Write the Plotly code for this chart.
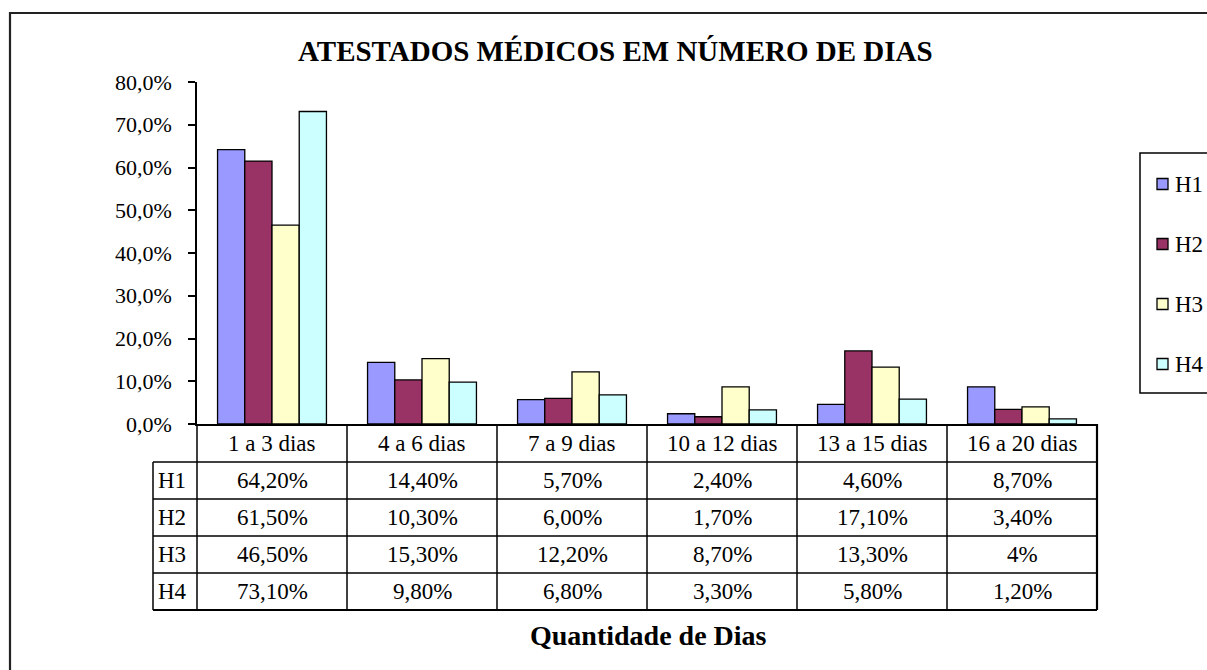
import plotly.graph_objects as go

# ---- data ----
categories = ["1 a 3 dias", "4 a 6 dias", "7 a 9 dias", "10 a 12 dias", "13 a 15 dias", "16 a 20 dias"]
series_names = ["H1", "H2", "H3", "H4"]
H1 = [64.2, 14.4, 5.7, 2.4, 4.6, 8.7]
H2 = [61.5, 10.3, 6.0, 1.7, 17.1, 3.4]
H3 = [46.5, 15.3, 12.2, 8.7, 13.3, 4.0]
H4 = [73.1, 9.8, 6.8, 3.3, 5.8, 1.2]
series_values = [H1, H2, H3, H4]
colors = ["#9999FF", "#993366", "#FFFFCC", "#CCFFFF"]
y_ticks = [0, 0.1, 0.2, 0.3, 0.4, 0.5, 0.6, 0.7, 0.8]

title = "ATESTADOS MÉDICOS EM NÚMERO DE DIAS"
x_title = "Quantidade de Dias"

# ---- layout geometry (pixels) ----
W, H = 1207, 670
L, R, T, B = 197, 1097, 82, 424
PW, PH = R - L, B - T
FONT = "Liberation Serif"


def px_x(x):
    return (x - L) / PW


def px_y(y):
    return (B - y) / PH


def fmt(v):
    if v == int(v) and v < 5:
        return f"{int(v)}%"
    return f"{v:.2f}%".replace(".", ",")


fig = go.Figure()
for name, vals, col in zip(series_names, series_values, colors):
    fig.add_trace(go.Bar(
        x=categories, y=[v / 100 for v in vals], name=name,
        marker=dict(color=col, line=dict(color="black", width=1.3)),
        showlegend=False,
    ))

shapes = []
annotations = []

# outer border
shapes.append(dict(type="rect", xref="paper", yref="paper",
                   x0=px_x(10), x1=px_x(1230), y0=px_y(690), y1=px_y(13),
                   line=dict(color="#222", width=2.2), fillcolor="rgba(0,0,0,0)", layer="below"))

# legend (box, swatches, labels) built from the series lists
shapes.append(dict(type="rect", xref="paper", yref="paper",
                   x0=px_x(1140), x1=px_x(1230), y0=px_y(393), y1=px_y(153),
                   line=dict(color="black", width=1.5), fillcolor="rgba(0,0,0,0)"))
for k, (name, col) in enumerate(zip(series_names, colors)):
    yc = 184 + 60 * k
    shapes.append(dict(type="rect", xref="paper", yref="paper",
                       x0=px_x(1157), x1=px_x(1168), y0=px_y(yc + 5.5), y1=px_y(yc - 5.5),
                       line=dict(color="black", width=1.3), fillcolor=col))
    annotations.append(dict(x=px_x(1173), y=px_y(yc), xref="paper", yref="paper",
                            xanchor="left", yanchor="middle", text=name, showarrow=False,
                            font=dict(family=FONT, size=23, color="black")))

# data table
row_lines = [462, 499, 536, 573, 610]
col_w = PW / len(categories)
line = dict(color="black", width=1.5)
for yy in row_lines[:-1]:
    shapes.append(dict(type="line", xref="paper", yref="paper",
                       x0=px_x(153), x1=px_x(R), y0=px_y(yy), y1=px_y(yy), line=line))
shapes.append(dict(type="line", xref="paper", yref="paper",
                   x0=px_x(153), x1=px_x(R), y0=px_y(610), y1=px_y(610),
                   line=dict(color="black", width=2.2)))
for i in range(len(categories) + 1):
    xx = L + i * col_w
    shapes.append(dict(type="line", xref="paper", yref="paper",
                       x0=px_x(xx), x1=px_x(xx), y0=px_y(B), y1=px_y(610),
                       line=line if i < len(categories) else dict(color="black", width=2.2)))
shapes.append(dict(type="line", xref="paper", yref="paper",
                   x0=px_x(153), x1=px_x(153), y0=px_y(462), y1=px_y(610), line=line))

tfont = dict(family=FONT, size=23, color="black")
header_y = (B + 462) / 2
for i, c in enumerate(categories):
    annotations.append(dict(x=px_x(L + (i + 0.5) * col_w), y=px_y(header_y), xref="paper", yref="paper",
                            xanchor="center", yanchor="middle",
                            text=c, showarrow=False, font=tfont))
for r, (name, vals) in enumerate(zip(series_names, series_values)):
    yc = (row_lines[r] + row_lines[r + 1]) / 2
    annotations.append(dict(x=px_x(156), y=px_y(yc), xref="paper", yref="paper",
                            xanchor="left", yanchor="middle",
                            text=name, showarrow=False, font=tfont))
    for i, v in enumerate(vals):
        annotations.append(dict(x=px_x(L + (i + 0.5) * col_w), y=px_y(yc), xref="paper", yref="paper",
                                xanchor="center", yanchor="middle",
                                text=fmt(v), showarrow=False, font=tfont))

# titles
annotations.append(dict(x=px_x(615), y=px_y(51), xref="paper", yref="paper", text=f"<b>{title}</b>",
                        xanchor="center", yanchor="middle",
                        showarrow=False, font=dict(family=FONT, size=29, color="black")))
annotations.append(dict(x=px_x(648), y=px_y(635), xref="paper", yref="paper", text=f"<b>{x_title}</b>",
                        xanchor="center", yanchor="middle",
                        showarrow=False, font=dict(family=FONT, size=28, color="black")))

fig.update_layout(
    width=W, height=H,
    margin=dict(l=L, r=W - R, t=T, b=H - B, pad=0, autoexpand=False),
    paper_bgcolor="white", plot_bgcolor="white",
    separators=",.",
    barmode="group", bargap=0.274, bargroupgap=0,
    showlegend=False,
    shapes=shapes, annotations=annotations,
    xaxis=dict(showticklabels=False, ticks="", showline=True, linecolor="black", linewidth=1.5,
               showgrid=False, zeroline=False, fixedrange=True),
    yaxis=dict(range=[0, 0.8], tickvals=y_ticks, tickformat=".1%", ticks="outside", ticklen=7,
               tickcolor="black", tickwidth=1.5, showline=True, linecolor="black", linewidth=1.5,
               showgrid=False, zeroline=False, tickfont=dict(family=FONT, size=22, color="black"),
               ticklabelstandoff=12, fixedrange=True),
    font=dict(family=FONT),
)

fig.write_html("out.html", config={"displayModeBar": False})

# remove the default page margin so the figure sits at the top-left corner
with open("out.html", "r", encoding="utf-8") as f:
    html = f.read()
html = html.replace("<body>", '<body style="margin:0;padding:0;overflow:hidden">', 1)
with open("out.html", "w", encoding="utf-8") as f:
    f.write(html)
